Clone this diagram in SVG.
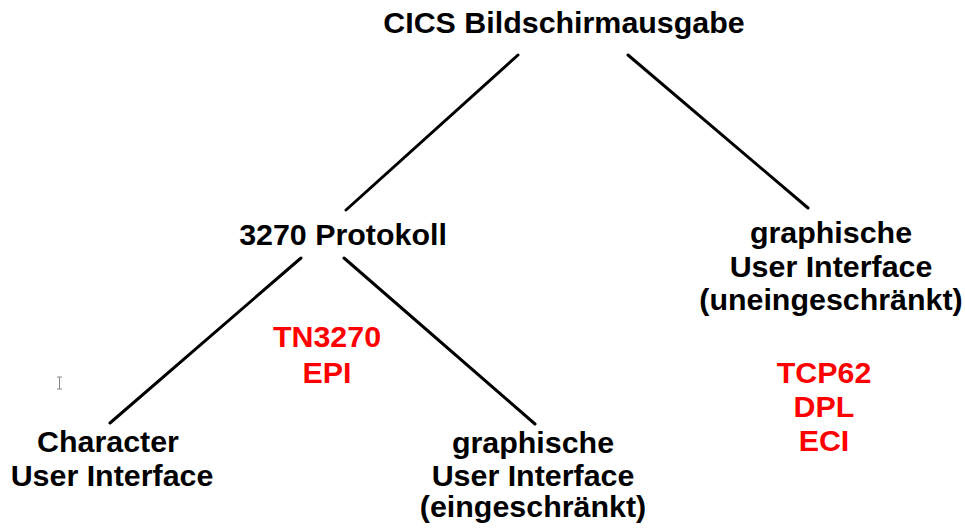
<svg xmlns="http://www.w3.org/2000/svg" width="965" height="530" viewBox="0 0 965 530">
<style>
text{font-family:"Liberation Sans",Arial,sans-serif;font-weight:bold;font-size:30.4px;text-anchor:middle}
.k{fill:#000}
.r{fill:#ff0000}
.c line{stroke:#000;stroke-width:3;stroke-linecap:round}
</style>
<rect width="965" height="530" fill="#fff"/>
<g class="c" id="connectors">
<line x1="518" y1="55" x2="346" y2="210"/>
<line x1="628" y1="55" x2="808" y2="208"/>
<line x1="301" y1="258" x2="110" y2="423"/>
<line x1="344" y1="258" x2="535" y2="424"/>
</g>
<g id="root"><text class="k" x="564" y="33">CICS Bildschirmausgabe</text></g>
<g id="protokoll"><text class="k" x="343" y="245">3270 Protokoll</text></g>
<g id="tn3270"><text class="r" x="327" y="347">TN3270</text><text class="r" x="327" y="383">EPI</text></g>
<g id="gui-full">
<text class="k" x="831" y="243">graphische</text>
<text class="k" x="831" y="277">User Interface</text>
<text class="k" x="831" y="310">(uneingeschränkt)</text>
</g>
<g id="tcp62">
<text class="r" x="824" y="383">TCP62</text>
<text class="r" x="824" y="417">DPL</text>
<text class="r" x="824" y="451">ECI</text>
</g>
<g id="cui">
<text class="k" x="108" y="452">Character</text>
<text class="k" x="112" y="486">User Interface</text>
</g>
<g id="gui-limited">
<text class="k" x="533" y="453">graphische</text>
<text class="k" x="533" y="486">User Interface</text>
<text class="k" x="533" y="517">(eingeschränkt)</text>
</g>
<path d="M57 377h5M59.5 377v12M57 389h5" stroke="#888" stroke-width="1" fill="none"/>
</svg>
